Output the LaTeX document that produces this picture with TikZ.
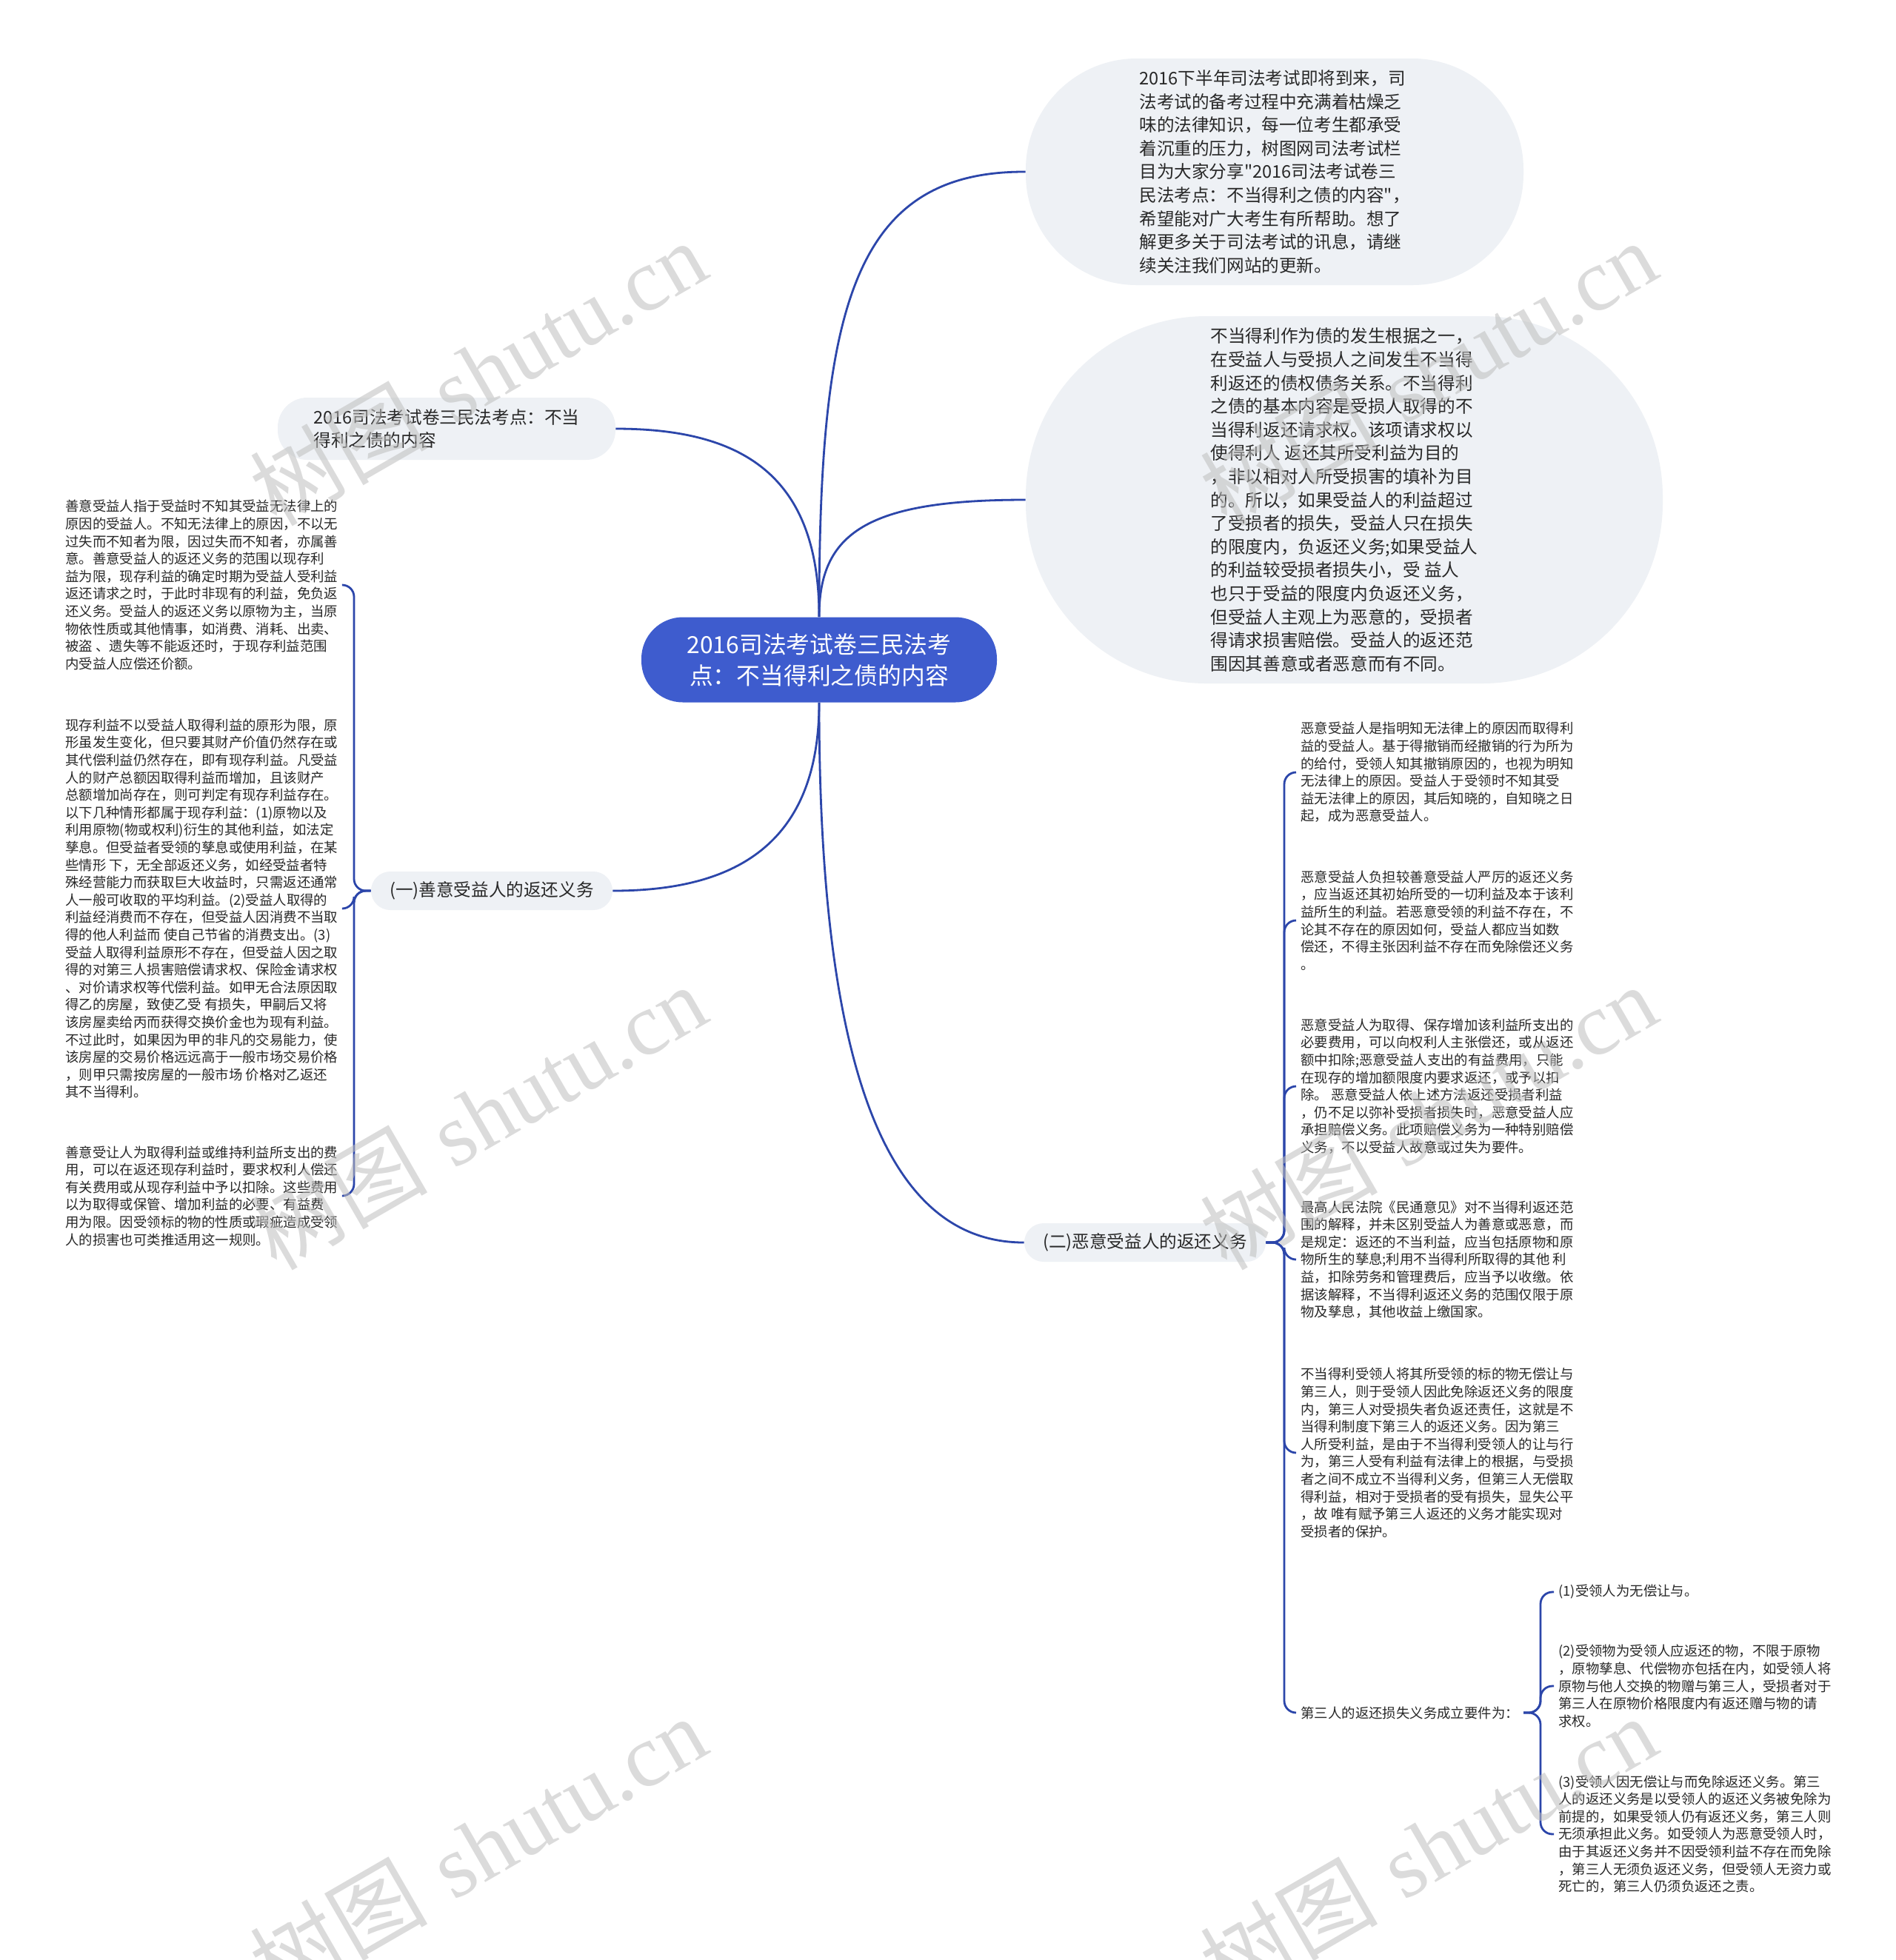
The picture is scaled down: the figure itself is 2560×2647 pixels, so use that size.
\documentclass[tikz,border=0pt]{standalone}
\usepackage{fontspec}
\newfontfamily\cjk{Noto Sans CJK SC}
\newfontfamily\wmserif{Liberation Serif}
\definecolor{bubblefill}{RGB}{238,241,245}
\definecolor{mainblue}{RGB}{62,92,206}
\definecolor{lineblue}{RGB}{44,70,170}
\definecolor{txt}{RGB}{40,40,40}
\definecolor{wm}{RGB}{190,190,190}
\tikzset{
  conn/.style={draw=lineblue, line width=1.4pt},
  brk/.style={conn, rounded corners=8pt},
  centernode/.style={fill=mainblue, text=white, rounded corners=28pt, minimum width=240pt, minimum height=57.5pt, align=center, font=\cjk\fontsize{15.9pt}{21pt}\selectfont},
  bubble/.style={fill=bubblefill, text=txt, align=left, font=\cjk\fontsize{11.8pt}{15.8pt}\selectfont},
  branch/.style={fill=bubblefill, text=txt, align=left, rounded corners=13pt, minimum width=163pt, minimum height=26pt, font=\cjk\fontsize{11.8pt}{15.8pt}\selectfont},
  item/.style={text=txt, align=left, inner xsep=3pt, inner ysep=2pt, font=\cjk\fontsize{9.2pt}{11.8pt}\selectfont},
  wmark/.style={text=wm, opacity=0.55, rotate=30, font=\fontsize{60pt}{60pt}\selectfont}
}
\begin{document}
\begin{tikzpicture}[x=0.5pt,y=-0.5pt]
\useasboundingbox (0,0) rectangle (2560,2647);
\fill[white] (0,0) rectangle (2560,2647);

% central node
\node[centernode] (c) at (1106,891) {2016司法考试卷三民法考\\点：不当得利之债的内容};

% bubbles
\node[bubble, rounded corners=75pt, minimum width=336pt, minimum height=153pt] (b1) at (1721,232) {2016下半年司法考试即将到来，司\\
法考试的备考过程中充满着枯燥乏\\
味的法律知识，每一位考生都承受\\
着沉重的压力，树图网司法考试栏\\
目为大家分享"2016司法考试卷三\\
民法考点：不当得利之债的内容"，\\
希望能对广大考生有所帮助。想了\\
解更多关于司法考试的讯息，请继\\
续关注我们网站的更新。};

\node[bubble, rounded corners=122pt, minimum width=430pt, minimum height=248pt] (b2) at (1815,675) {不当得利作为债的发生根据之一，\\
在受益人与受损人之间发生不当得\\
利返还的债权债务关系。不当得利\\
之债的基本内容是受损人取得的不\\
当得利返还请求权。该项请求权以\\
使得利人 返还其所受利益为目的\\
，非以相对人所受损害的填补为目\\
的。所以，如果受益人的利益超过\\
了受损者的损失，受益人只在损失\\
的限度内，负返还义务;如果受益人\\
的利益较受损者损失小，受 益人\\
也只于受益的限度内负返还义务，\\
但受益人主观上为恶意的，受损者\\
得请求损害赔偿。受益人的返还范\\
围因其善意或者恶意而有不同。};

\node[bubble, rounded corners=20pt, minimum width=228pt, minimum height=42pt] (n1) at (603,579) {2016司法考试卷三民法考点：不当\\得利之债的内容};

% branches
\node[branch] (g) at (664,1203) {(一)善意受益人的返还义务};
\node[branch] (e) at (1546,1678) {(二)恶意受益人的返还义务};

% left items
\node[item, anchor=west] (l1) at (82,790) {善意受益人指于受益时不知其受益无法律上的\\
原因的受益人。不知无法律上的原因，不以无\\
过失而不知者为限，因过失而不知者，亦属善\\
意。善意受益人的返还义务的范围以现存利\\
益为限，现存利益的确定时期为受益人受利益\\
返还请求之时，于此时非现有的利益，免负返\\
还义务。受益人的返还义务以原物为主，当原\\
物依性质或其他情事，如消费、消耗、出卖、\\
被盗 、遗失等不能返还时，于现存利益范围\\
内受益人应偿还价额。};

\node[item, anchor=west] (l2) at (82,1227) {现存利益不以受益人取得利益的原形为限，原\\
形虽发生变化，但只要其财产价值仍然存在或\\
其代偿利益仍然存在，即有现存利益。凡受益\\
人的财产总额因取得利益而增加，且该财产\\
总额增加尚存在，则可判定有现存利益存在。\\
以下几种情形都属于现存利益：(1)原物以及\\
利用原物(物或权利)衍生的其他利益，如法定\\
孳息。但受益者受领的孳息或使用利益，在某\\
些情形 下，无全部返还义务，如经受益者特\\
殊经营能力而获取巨大收益时，只需返还通常\\
人一般可收取的平均利益。(2)受益人取得的\\
利益经消费而不存在，但受益人因消费不当取\\
得的他人利益而 使自己节省的消费支出。(3)\\
受益人取得利益原形不存在，但受益人因之取\\
得的对第三人损害赔偿请求权、保险金请求权\\
、对价请求权等代偿利益。如甲无合法原因取\\
得乙的房屋，致使乙受 有损失，甲嗣后又将\\
该房屋卖给丙而获得交换价金也为现有利益。\\
不过此时，如果因为甲的非凡的交易能力，使\\
该房屋的交易价格远远高于一般市场交易价格\\
，则甲只需按房屋的一般市场 价格对乙返还\\
其不当得利。};

\node[item, anchor=west] (l3) at (82,1615) {善意受让人为取得利益或维持利益所支出的费\\
用，可以在返还现存利益时，要求权利人偿还\\
有关费用或从现存利益中予以扣除。这些费用\\
以为取得或保管、增加利益的必要、有益费\\
用为限。因受领标的物的性质或瑕疵造成受领\\
人的损害也可类推适用这一规则。};

% right items
\node[item, anchor=west] (r1) at (1750,1043) {恶意受益人是指明知无法律上的原因而取得利\\
益的受益人。基于得撤销而经撤销的行为所为\\
的给付，受领人知其撤销原因的，也视为明知\\
无法律上的原因。受益人于受领时不知其受\\
益无法律上的原因，其后知晓的，自知晓之日\\
起，成为恶意受益人。};

\node[item, anchor=west] (r2) at (1750,1243) {恶意受益人负担较善意受益人严厉的返还义务\\
，应当返还其初始所受的一切利益及本于该利\\
益所生的利益。若恶意受领的利益不存在，不\\
论其不存在的原因如何，受益人都应当如数\\
偿还，不得主张因利益不存在而免除偿还义务\\
。};

\node[item, anchor=west] (r3) at (1750,1467) {恶意受益人为取得、保存增加该利益所支出的\\
必要费用，可以向权利人主张偿还，或从返还\\
额中扣除;恶意受益人支出的有益费用，只能\\
在现存的增加额限度内要求返还，或予以扣\\
除。 恶意受益人依上述方法返还受损者利益\\
，仍不足以弥补受损者损失时，恶意受益人应\\
承担赔偿义务。此项赔偿义务为一种特别赔偿\\
义务，不以受益人故意或过失为要件。};

\node[item, anchor=west] (r4) at (1750,1701) {最高人民法院《民通意见》对不当得利返还范\\
围的解释，并未区别受益人为善意或恶意，而\\
是规定：返还的不当利益，应当包括原物和原\\
物所生的孳息;利用不当得利所取得的其他 利\\
益，扣除劳务和管理费后，应当予以收缴。依\\
据该解释，不当得利返还义务的范围仅限于原\\
物及孳息，其他收益上缴国家。};

\node[item, anchor=west] (r5) at (1750,1962) {不当得利受领人将其所受领的标的物无偿让与\\
第三人，则于受领人因此免除返还义务的限度\\
内，第三人对受损失者负返还责任，这就是不\\
当得利制度下第三人的返还义务。因为第三\\
人所受利益，是由于不当得利受领人的让与行\\
为，第三人受有利益有法律上的根据，与受损\\
者之间不成立不当得利义务，但第三人无偿取\\
得利益，相对于受损者的受有损失，显失公平\\
，故 唯有赋予第三人返还的义务才能实现对\\
受损者的保护。};

\node[item, anchor=west] (r6) at (1750,2313) {第三人的返还损失义务成立要件为：};

% far right sub items
\node[item, anchor=west] (s1) at (2098,2150) {(1)受领人为无偿让与。};
\node[item, anchor=west] (s2) at (2098,2277) {(2)受领物为受领人应返还的物，不限于原物\\
，原物孳息、代偿物亦包括在内，如受领人将\\
原物与他人交换的物赠与第三人，受损者对于\\
第三人在原物价格限度内有返还赠与物的请\\
求权。};
\node[item, anchor=west] (s3) at (2098,2477) {(3)受领人因无偿让与而免除返还义务。第三\\
人的返还义务是以受领人的返还义务被免除为\\
前提的，如果受领人仍有返还义务，第三人则\\
无须承担此义务。如受领人为恶意受领人时，\\
由于其返还义务并不因受领利益不存在而免除\\
，第三人无须负返还义务，但受领人无资力或\\
死亡的，第三人仍须负返还之责。};

% main connectors
\draw[conn] (c.north) .. controls (1106,420) and (1150,231) .. (b1.west);
\draw[conn] (c.north) .. controls (1106,720) and (1170,675) .. (b2.west);
\draw[conn] (c.north) .. controls (1106,640) and (1000,579) .. (n1.east);
\draw[conn] (c.south) .. controls (1106,1150) and (980,1203) .. (g.east);
\draw[conn] (c.south) .. controls (1106,1500) and (1220,1678) .. (e.west);

% left bracket
\foreach \t in {l1,l2,l3} \draw[brk] (g.west) -- (478,1203) |- (\t.east);
% right bracket
\foreach \t in {r1,r2,r3,r4,r5,r6} \draw[brk] (e.east) -- (1734,1678) |- (\t.west);
% sub bracket
\foreach \t in {s1,s2,s3} \draw[brk] (r6.east) -- (2080,2313) |- (\t.west);

% watermarks
\foreach \px/\py in {645/503, 1928/503, 645/1508, 1928/1508, 645/2496, 1928/2496}
  \node[wmark] (wm\px\py) at (\px,\py) {{\cjk 树图} {\wmserif shutu.cn}};
\end{tikzpicture}
\end{document}
